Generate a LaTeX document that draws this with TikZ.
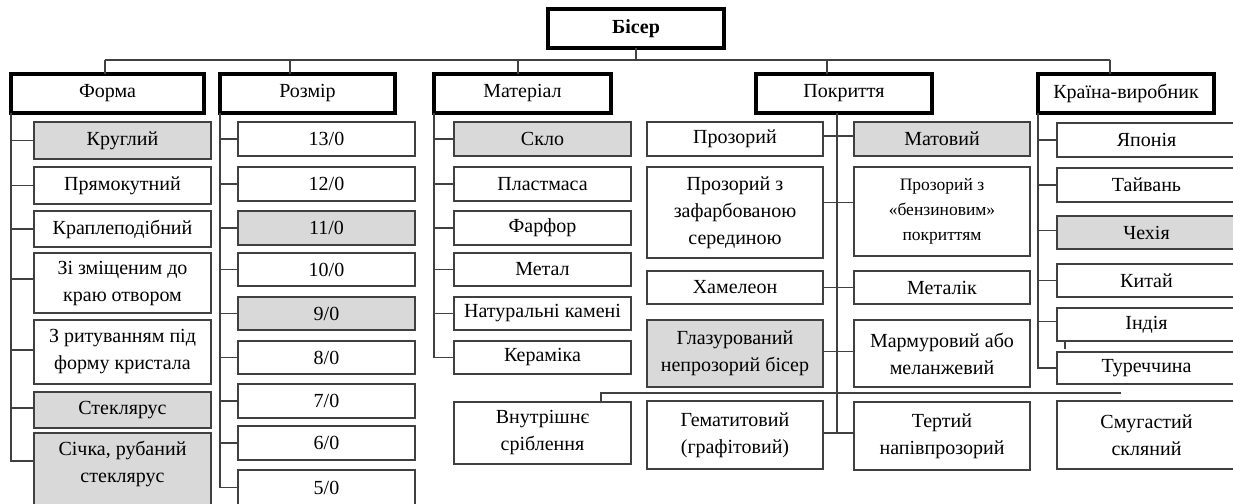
\documentclass[tikz,border=0pt]{standalone}
\usepackage{fontspec}
\setmainfont{Liberation Serif}
\begin{document}
\begin{tikzpicture}[x=1pt,y=-1pt,
  box/.style={draw=black!75, line width=1.2pt, fill=white, align=center, inner sep=0pt, outer sep=0pt, font=\fontsize{20}{27}\selectfont},
  grey/.style={box, fill=black!15},
  cat/.style={box, draw=black, line width=3.4pt},
  ln/.style={draw=black!75, line width=1.2pt},
  txt/.style={align=center, inner sep=0pt, font=\fontsize{20}{27}\selectfont}]
\useasboundingbox (0,0) rectangle (1233,503);
\clip (0,0) rectangle (1233,503);
% top
\node[cat, minimum width=176pt, minimum height=39pt, font=\fontsize{20}{27}\selectfont\bfseries] (biser) at (636,28.5) {Бісер};
\node[cat, minimum width=193pt, minimum height=39pt] (forma) at (107.5,93.5) {Форма};
\node[cat, minimum width=175pt, minimum height=39pt] (rozmir) at (307.5,93.5) {Розмір};
\node[cat, minimum width=177pt, minimum height=39pt] (mater) at (522.5,93.5) {Матеріал};
\node[cat, minimum width=176pt, minimum height=39pt] (pokr) at (844,93.5) {Покриття};
\node[cat, minimum width=176pt, minimum height=39pt] (kraina) at (1126,93.5) {Країна-виробник};
\coordinate (b1) at (105,60);
\coordinate (b2) at (290,60);
\coordinate (b3) at (518,60);
\coordinate (b4) at (827,60);
\coordinate (b5) at (1110,60);
\draw[ln] (b1) -- (b5);
\draw[ln] (biser.south) -- (biser.south |- b1);
\draw[ln] (b1) -- (b1 |- forma.north);
\draw[ln] (b2) -- (b2 |- rozmir.north);
\draw[ln] (b3) -- (b3 |- mater.north);
\draw[ln] (b4) -- (b4 |- pokr.north);
\draw[ln] (b5) -- (b5 |- kraina.north);
% Форма
\node[grey, minimum width=177pt, minimum height=37pt] (f1) at (122.5,140.5) {Круглий};
\node[box, minimum width=177pt, minimum height=37pt] (f2) at (122.5,185.5) {Прямокутний};
\node[box, minimum width=177pt, minimum height=36pt] (f3) at (122.5,229) {Краплеподібний};
\node[box, minimum width=177pt, minimum height=60pt] (f4) at (122.5,283) {Зі зміщеним до\\краю отвором};
\node[box, minimum width=177pt, minimum height=64pt] (f5) at (122.5,352) {З ритуванням під\\форму кристала};
\node[grey, minimum width=177pt, minimum height=36pt] (f6) at (122.5,410) {Стеклярус};
\node[grey, minimum width=177pt, minimum height=90pt, anchor=north] (f7) at (122.5,433) {};
\node[txt] (f7t) at (122.5,464) {Січка, рубаний\\стеклярус};
\draw[ln] (forma.south west) |- (f1.west);
\draw[ln] (forma.south west) |- (f2.west);
\draw[ln] (forma.south west) |- (f3.west);
\draw[ln] (forma.south west) |- ([yshift=4pt]f4.west);
\draw[ln] (forma.south west) |- ([yshift=2pt]f5.west);
\draw[ln] (forma.south west) |- ([yshift=2pt]f6.west);
\draw[ln] (forma.south west) |- ([yshift=3pt]f7t.west -| f7.west);
% Розмір
\node[box, minimum width=177pt, minimum height=34pt] (r1) at (326.5,139) {13/0};
\node[box, minimum width=177pt, minimum height=34pt] (r2) at (326.5,184) {12/0};
\node[grey, minimum width=177pt, minimum height=34pt] (r3) at (326.5,228) {11/0};
\node[box, minimum width=177pt, minimum height=33pt] (r4) at (326.5,269.5) {10/0};
\node[grey, minimum width=177pt, minimum height=33pt] (r5) at (326.5,313.5) {9/0};
\node[box, minimum width=177pt, minimum height=33pt] (r6) at (326.5,357.5) {8/0};
\node[box, minimum width=177pt, minimum height=34pt] (r7) at (326.5,401) {7/0};
\node[box, minimum width=177pt, minimum height=34pt] (r8) at (326.5,443) {6/0};
\node[box, minimum width=177pt, minimum height=35pt] (r9) at (326.5,487.5) {5/0};
\foreach \n in {r1,r2,r3,r4,r5,r6,r7,r8,r9}
  \draw[ln] (rozmir.south west) |- (\n.west);
% Матеріал
\node[grey, minimum width=177pt, minimum height=34pt] (m1) at (542.5,139) {Скло};
\node[box, minimum width=177pt, minimum height=34pt] (m2) at (542.5,184) {Пластмаса};
\node[box, minimum width=177pt, minimum height=34pt] (m3) at (542.5,228) {Фарфор};
\node[box, minimum width=177pt, minimum height=33pt] (m4) at (542.5,269.5) {Метал};
\node[box, minimum width=177pt, minimum height=33pt] (m5) at (542.5,313.5) {Натуральні камені};
\node[box, minimum width=177pt, minimum height=33pt] (m6) at (542.5,357.5) {Кераміка};
\foreach \n in {m1,m2,m3,m4,m5,m6}
  \draw[ln] (mater.south west) |- (\n.west);
% Покриття
\node[box, minimum width=176pt, minimum height=34pt] (p1) at (735,139) {Прозорий};
\node[grey, minimum width=176pt, minimum height=34pt] (p2) at (942,139) {Матовий};
\node[box, minimum width=176pt, minimum height=91pt] (p3) at (735,212.5) {Прозорий з\\зафарбованою\\серединою};
\node[box, minimum width=176pt, minimum height=89pt, font=\fontsize{17.5}{25}\selectfont] (p4) at (942,211.5) {Прозорий з\\«бензиновим»\\покриттям};
\node[box, minimum width=176pt, minimum height=33pt] (p5) at (735,287.5) {Хамелеон};
\node[box, minimum width=176pt, minimum height=33pt] (p6) at (942,287.5) {Металік};
\node[grey, minimum width=176pt, minimum height=67pt] (p7) at (735,353.5) {Глазурований\\непрозорий бісер};
\node[box, minimum width=176pt, minimum height=67pt] (p8) at (942,353.5) {Мармуровий або\\меланжевий};
\node[box, minimum width=177pt, minimum height=62pt] (p9) at (542.5,433) {Внутрішнє\\сріблення};
\node[box, minimum width=176pt, minimum height=68pt] (p10) at (735,435) {Гематитовий\\(графітовий)};
\node[box, minimum width=176pt, minimum height=68pt] (p11) at (942,436) {Тертий\\напівпрозорий};
\node[box, minimum width=179pt, minimum height=68pt] (p12) at (1146.5,435) {Смугастий\\скляний};
\coordinate (pt) at (837,0);
\draw[ln] (pt |- pokr.south) -- ([yshift=2pt]pt |- p10.east);
\draw[ln] ([yshift=3pt]p1.east) -- ([yshift=3pt]p1.east -| p2.west);
\draw[ln] ([yshift=10pt]p3.east) -- ([yshift=10pt]p3.east -| p4.west);
\draw[ln] (p5.east) -- (p6.west);
\draw[ln] ([yshift=2pt]p7.east) -- ([yshift=2pt]p7.east -| p8.west);
\draw[ln] ([yshift=2pt]p10.east) -- ([yshift=2pt]p10.east -| p11.west);
\coordinate (h1) at (601,393);
\coordinate (h2) at (1121,393);
\draw[ln] (p9.north -| h1) -- (h1) -- (h2);
% Країна-виробник
\node[box, minimum width=179pt, minimum height=34pt] (k1) at (1146.5,140) {Японія};
\node[box, minimum width=179pt, minimum height=34pt] (k2) at (1146.5,185) {Тайвань};
\node[grey, minimum width=179pt, minimum height=33pt] (k3) at (1146.5,232.5) {Чехія};
\node[box, minimum width=179pt, minimum height=33pt] (k4) at (1146.5,280.5) {Китай};
\node[box, minimum width=179pt, minimum height=33pt] (k5) at (1146.5,324.5) {Індія};
\node[box, minimum width=179pt, minimum height=32pt] (k6) at (1146.5,368) {Туреччина};
\draw[ln] (kraina.south west) |- (k1.west);
\draw[ln] (kraina.south west) |- (k2.west);
\draw[ln] (kraina.south west) |- ([yshift=2pt]k3.west);
\draw[ln] (kraina.south west) |- (k4.west);
\draw[ln] (kraina.south west) |- ([yshift=3pt]k5.west);
\draw[ln] (kraina.south west) |- (k6.west);
\coordinate (tk) at (1065,349);
\draw[ln] (tk |- k5.south) -- (tk);
\end{tikzpicture}
\end{document}
